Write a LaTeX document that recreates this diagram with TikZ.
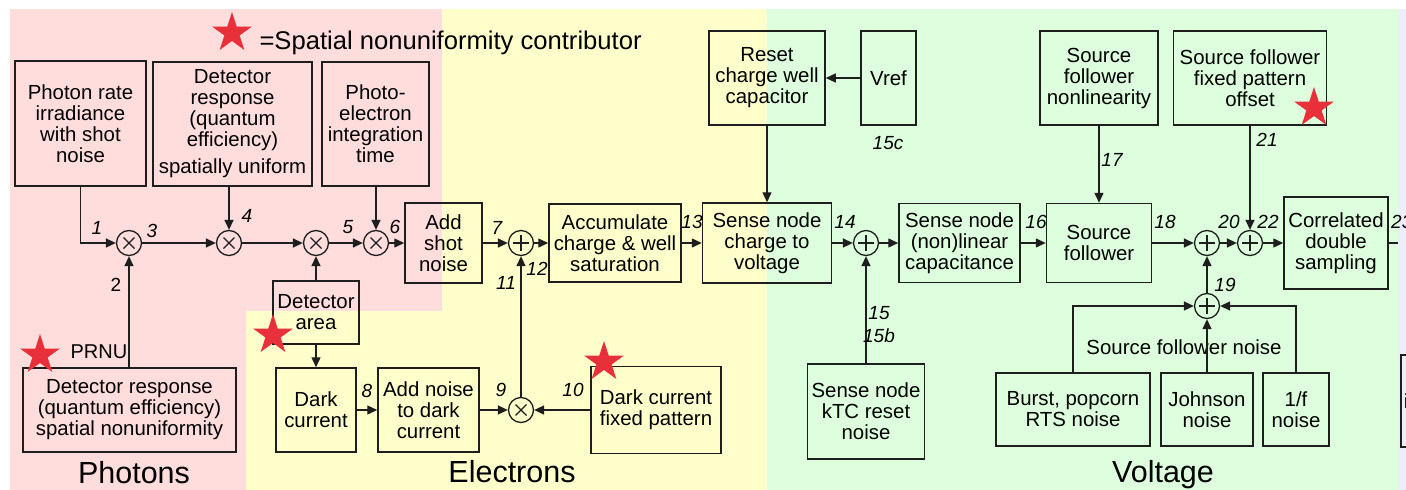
\documentclass[tikz,border=0pt]{standalone}
\usepackage{fontspec}
\setmainfont{Liberation Sans}
\usetikzlibrary{arrows.meta,shapes.geometric}

\definecolor{photonbg}{RGB}{255,221,221}
\definecolor{electronbg}{RGB}{255,255,204}
\definecolor{voltagebg}{RGB}{221,255,221}
\definecolor{nextbg}{RGB}{238,238,250}
\definecolor{starred}{RGB}{232,48,58}
\definecolor{ink}{RGB}{30,30,30}

\newcommand{\boxfont}{\fontsize{20.4}{21}\selectfont}
\newcommand{\numfont}{\fontsize{19}{19}\selectfont\itshape}
\newcommand{\zonefont}{\fontsize{30.5}{31}\selectfont}

\tikzset{
  blok/.style={draw=ink, line width=1.5pt, align=center, inner sep=0pt, font=\boxfont},
  mulc/.style={circle, draw=ink, line width=1.3pt, minimum size=25pt, inner sep=0pt,
    path picture={\draw[ink, line width=1.1pt] (path picture bounding box.center)
      +(-5.5,-5.5) -- +(5.5,5.5) +(-5.5,5.5) -- +(5.5,-5.5);}},
  sumc/.style={circle, draw=ink, line width=1.3pt, minimum size=25pt, inner sep=0pt,
    path picture={\draw[ink, line width=1.1pt] (path picture bounding box.center)
      +(-8,0) -- +(8,0) +(0,-8) -- +(0,8);}},
  num/.style={font=\numfont, inner sep=0pt},
  star5/.style={star, star points=5, star point ratio=2.618, fill=starred,
    minimum size=42pt, inner sep=0pt},
  wire/.style={draw=ink, line width=1.4pt, -{Triangle[length=10pt,width=9pt]}},
}

\begin{document}
\begin{tikzpicture}[x=1pt, y=-1pt]
  \useasboundingbox (0,0) rectangle (1406,490);

  % Zones
  \fill[photonbg] (10,9) -- (442,9) -- (442,311) -- (246,311) -- (246,490) -- (10,490) -- cycle;
  \fill[electronbg] (442,9) -- (767,9) -- (767,490) -- (246,490) -- (246,311) -- (442,311) -- cycle;
  \fill[voltagebg] (767,9) rectangle (1398,490);
  \fill[nextbg] (1398,9) rectangle (1406,490);

  % Legend
  \node[star5] (legstar) at (232,33) {};
  \node[anchor=base west, font=\fontsize{25.6}{26}\selectfont] (legend) at (256,49)
    {=Spatial nonuniformity contributor};

  % Photons
  \node[blok, minimum width=131pt, minimum height=125pt] (photon) at (80.5,123.5)
    {Photon rate\\irradiance\\with shot\\noise};
  \node[blok, minimum width=159pt, minimum height=124pt] (respuni) at (232.5,124)
    {Detector\\response\\(quantum\\efficiency)\\[6pt]spatially uniform};
  \node[blok, minimum width=107pt, minimum height=124pt] (integ) at (375.5,124)
    {Photo-\\electron\\integration\\time};
  \node[blok, minimum width=213pt, minimum height=84pt] (prnu) at (129.5,410)
    {Detector response\\(quantum efficiency)\\spatial nonuniformity};
  \node[star5] (prnustar) at (40,355) {};
  \node[anchor=base west, font=\fontsize{20}{20}\selectfont] (prnulbl) at (67,358) {PRNU};
  \node[mulc] (m1) at (129,243) {};
  \node[mulc] (m2) at (229,243) {};
  \node[mulc] (m3) at (316,243) {};
  \node[mulc] (m4) at (376,243) {};
  \node[font=\zonefont, anchor=base] (photons) at (134,483) {Photons};

  % Electrons
  \node[blok, minimum width=86pt, minimum height=63pt] (area) at (316,312.5) {Detector\\area};
  \node[star5] (areastar) at (273,335) {};
  \node[blok, minimum width=80pt, minimum height=84pt] (dark) at (316,410) {Dark\\current};
  \node[blok, minimum width=101pt, minimum height=84pt] (addn) at (428.5,410)
    {Add noise\\to dark\\current};
  \node[mulc] (m9) at (521,410) {};
  \node[blok, minimum width=130pt, minimum height=87pt] (dcfp) at (656,410)
    {Dark current\\fixed pattern};
  \node[star5] (dcfpstar) at (604,362) {};
  \node[blok, minimum width=77pt, minimum height=80pt] (shot) at (443.5,243) {Add\\shot\\noise};
  \node[sumc] (s7) at (521,243) {};
  \node[blok, minimum width=132pt, minimum height=78pt] (accum) at (615,243)
    {Accumulate\\charge \& well\\saturation};
  \node[font=\zonefont, anchor=base] (electrons) at (512,482) {Electrons};

  % Voltage
  \node[blok, minimum width=129pt, minimum height=80pt] (sense) at (767,243)
    {Sense node\\charge to\\voltage};
  \node[blok, minimum width=116pt, minimum height=94pt] (reset) at (767,78)
    {Reset\\charge well\\capacitor};
  \node[blok, minimum width=55pt, minimum height=94pt] (vref) at (888.5,78) {Vref};
  \node[sumc] (s14) at (866,243) {};
  \node[blok, minimum width=117pt, minimum height=95pt] (ktc) at (866,411.5)
    {Sense node\\kTC reset\\noise};
  \node[blok, minimum width=121pt, minimum height=79pt] (cap) at (959.5,243)
    {Sense node\\(non)linear\\capacitance};
  \node[blok, minimum width=105pt, minimum height=79pt] (sf) at (1099,243) {Source\\follower};
  \node[blok, minimum width=118pt, minimum height=94pt] (sfnl) at (1099,78)
    {Source\\follower\\nonlinearity};
  \node[blok, minimum width=153pt, minimum height=94pt] (sffp) at (1250,78)
    {Source follower\\fixed pattern\\offset};
  \node[star5] (sffpstar) at (1314,108) {};
  \node[sumc] (sA) at (1207,243) {};
  \node[sumc] (sB) at (1250,243) {};
  \node[sumc] (s19) at (1207,306) {};
  \node[blok, minimum width=104pt, minimum height=92pt] (cds) at (1336,243)
    {Correlated\\double\\sampling};
  \node[blok, minimum width=154pt, minimum height=73pt] (burst) at (1073,409.5)
    {Burst, popcorn\\RTS noise};
  \node[blok, minimum width=92pt, minimum height=73pt] (johnson) at (1207,409.5)
    {Johnson\\noise};
  \node[blok, minimum width=66pt, minimum height=73pt] (onef) at (1296,409.5) {1/f\\noise};
  \node[anchor=base, font=\boxfont] (sfnoise) at (1184,354) {Source follower noise};
  \node[font=\zonefont, anchor=base] (voltage) at (1163,482) {Voltage};
  \node[blok, anchor=north west, minimum width=80pt, minimum height=92pt,
    text width=74pt, inner xsep=3pt, align=left] (next) at (1400,354) {i};
  \coordinate (out23) at (1398,243);

  % Connectors
  \draw[wire] (photon.south) |- (m1);
  \draw[wire] (m1 |- prnu.north) -- (m1);
  \draw[wire] (m1) -- (m2);
  \draw[wire] (m2 |- respuni.south) -- (m2);
  \draw[wire] (m2) -- (m3);
  \draw[wire] (area) -- (m3);
  \draw[wire] (m3) -- (m4);
  \draw[wire] (m4 |- integ.south) -- (m4);
  \draw[wire] (m4) -- (shot);
  \draw[wire] (shot) -- (s7);
  \draw[wire] (s7) -- (accum);
  \draw[wire] (accum) -- (sense);
  \draw[wire] (area) -- (dark);
  \draw[wire] (dark) -- (addn);
  \draw[wire] (addn) -- (m9);
  \draw[wire] (dcfp) -- (m9);
  \draw[wire] (m9) -- (s7);
  \draw[wire] (reset) -- (sense);
  \draw[wire] (vref) -- (reset);
  \draw[wire] (sense) -- (s14);
  \draw[wire] (ktc) -- (s14);
  \draw[wire] (s14) -- (cap);
  \draw[wire] (cap) -- (sf);
  \draw[wire] (sfnl) -- (sf);
  \draw[wire] (sf) -- (sA);
  \draw[wire] (sA) -- (sB);
  \draw[wire] (sffp) -- (sB);
  \draw[wire] (sB) -- (cds);
  \draw[ink, line width=1.4pt] (cds) -- (out23);
  \draw[wire] (s19) -- (sA);
  \draw[wire] (burst.north) |- (s19);
  \draw[wire] (johnson) -- (s19);
  \draw[wire] (onef.north) |- (s19);

  % Signal numbers
  \node[num] (n1) at (97,228) {1};
  \node[num, font=\fontsize{19}{19}\selectfont] (n2) at (116,285) {2};
  \node[num] (n3) at (152,231) {3};
  \node[num] (n4) at (247,216) {4};
  \node[num] (n5) at (348,227) {5};
  \node[num] (n6) at (395,227) {6};
  \node[num] (n7) at (497,228) {7};
  \node[num] (n8) at (367,391) {8};
  \node[num] (n9) at (501,390) {9};
  \node[num] (n10) at (573,390) {10};
  \node[num] (n11) at (506,283) {11};
  \node[num] (n12) at (537,269) {12};
  \node[num] (n13) at (692,222) {13};
  \node[num] (n14) at (845,222) {14};
  \node[num] (n15) at (879,313) {15};
  \node[num] (n15b) at (879,336) {15b};
  \node[num] (n15c) at (888,143) {15c};
  \node[num] (n16) at (1036,222) {16};
  \node[num] (n17) at (1112,160) {17};
  \node[num] (n18) at (1165,222) {18};
  \node[num] (n19) at (1225,285) {19};
  \node[num] (n20) at (1229,222) {20};
  \node[num] (n21) at (1267,140) {21};
  \node[num] (n22) at (1268,222) {22};
  \node[num, anchor=west] (n23) at (1391,222) {23};
\end{tikzpicture}
\end{document}
